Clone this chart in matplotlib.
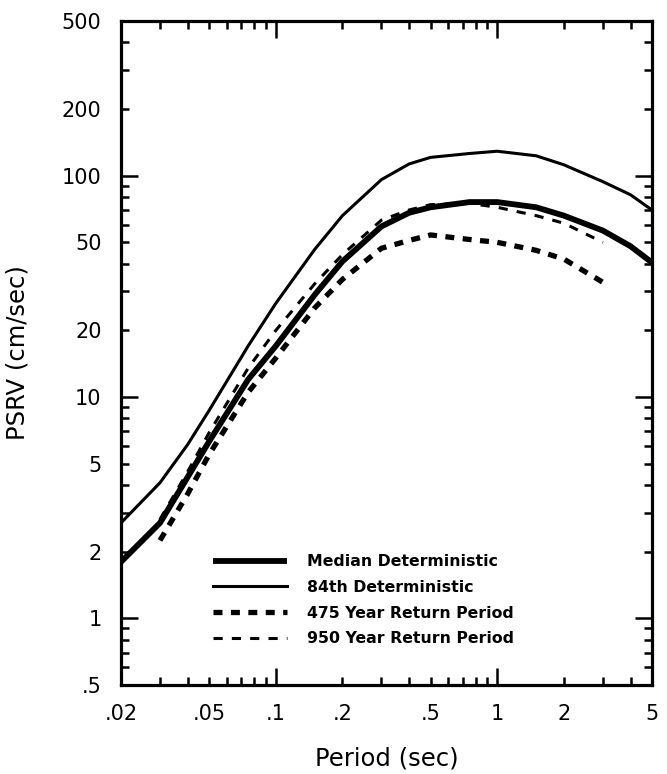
import numpy as np
import matplotlib
matplotlib.use("Agg")
import matplotlib.pyplot as plt
from matplotlib.ticker import LogLocator, FuncFormatter

# ---- data ----
period = [0.02, 0.03, 0.04, 0.05, 0.075, 0.1, 0.15, 0.2, 0.3, 0.4, 0.5, 0.75,
          1.0, 1.5, 2.0, 3.0, 4.0, 5.0]
median_det = [1.8, 2.7, 4.35, 6.3, 12.0, 17.0, 29.0, 41.0, 59.0, 68.0, 72.0, 76.0,
              76.0, 72.0, 66.0, 56.5, 48.0, 40.5]
p84_det = [2.7, 4.1, 6.1, 8.7, 17.0, 26.5, 46.5, 66.0, 96.0, 113.0, 121.0, 126.0,
           129.0, 123.0, 112.0, 94.0, 82.0, 70.0]

period_rp = [0.03, 0.04, 0.05, 0.075, 0.1, 0.15, 0.2, 0.3, 0.4, 0.5, 0.75, 1.0,
             1.5, 2.0, 3.0]
rp475 = [2.25, 3.65, 5.5, 10.5, 15.0, 25.3, 34.0, 47.0, 51.0, 54.0, 51.5, 50.0,
         46.0, 42.0, 33.0]
rp950 = [2.8, 4.6, 6.9, 13.5, 20.0, 32.5, 44.0, 63.0, 70.0, 74.0, 75.0, 72.0,
         66.0, 61.0, 50.0]

labels = ["Median Deterministic", "84th Deterministic",
          "475 Year Return Period", "950 Year Return Period"]

# ---- figure ----
fig = plt.figure(figsize=(6.67, 7.74), dpi=100)
ax = fig.add_axes([121/667, 1-685/774, (652-121)/667, (685-21)/774])

ax.plot(period, median_det, color="black", lw=4.2, solid_capstyle="butt",
        label=labels[0])
ax.plot(period, p84_det, color="black", lw=2.2, label=labels[1])
ax.plot(period_rp, rp475, color="black", lw=3.8, linestyle=(0, (1.7, 1.6)),
        dash_capstyle="butt", label=labels[2])
ax.plot(period_rp, rp950, color="black", lw=2.2, linestyle=(0, (3.0, 3.0)),
        dash_capstyle="butt", label=labels[3])

ax.set_xscale("log")
ax.set_yscale("log")
ax.set_xlim(0.02, 5)
ax.set_ylim(0.5, 500)

def fmt(v, pos=None):
    m = v / 10 ** np.floor(np.log10(v) + 1e-9)
    if not (abs(m - 1) < 1e-6 or abs(m - 2) < 1e-6 or abs(m - 5) < 1e-6):
        return ""
    s = f"{v:g}"
    if s.startswith("0."):
        s = s[1:]
    return s

for axis in (ax.xaxis, ax.yaxis):
    axis.set_major_locator(LogLocator(base=10, subs=(1.0,)))
    axis.set_minor_locator(LogLocator(base=10, subs=np.arange(2, 10), numticks=20))
    axis.set_major_formatter(FuncFormatter(fmt))
    axis.set_minor_formatter(FuncFormatter(fmt))

ax.tick_params(which="both", direction="in", top=True, right=True,
               width=1.8, labelsize=15, pad=14)
ax.tick_params(which="major", length=12)
ax.tick_params(which="minor", length=6)

for sp in ax.spines.values():
    sp.set_linewidth(2.3)

ax.set_xlabel("Period (sec)", fontsize=17.5)
ax.set_ylabel("PSRV (cm/sec)", fontsize=17.5)
ax.xaxis.set_label_coords(0.5, -0.092)
ax.yaxis.set_label_coords(-0.172, 0.5)

leg = ax.legend(loc="upper left", bbox_to_anchor=(0.173, 0.197), frameon=False,
                borderpad=0, borderaxespad=0, handlelength=4.7,
                handletextpad=1.27, labelspacing=0.68,
                prop={"size": 11.3, "weight": "bold"})

fig.savefig("out.png", dpi=100)
